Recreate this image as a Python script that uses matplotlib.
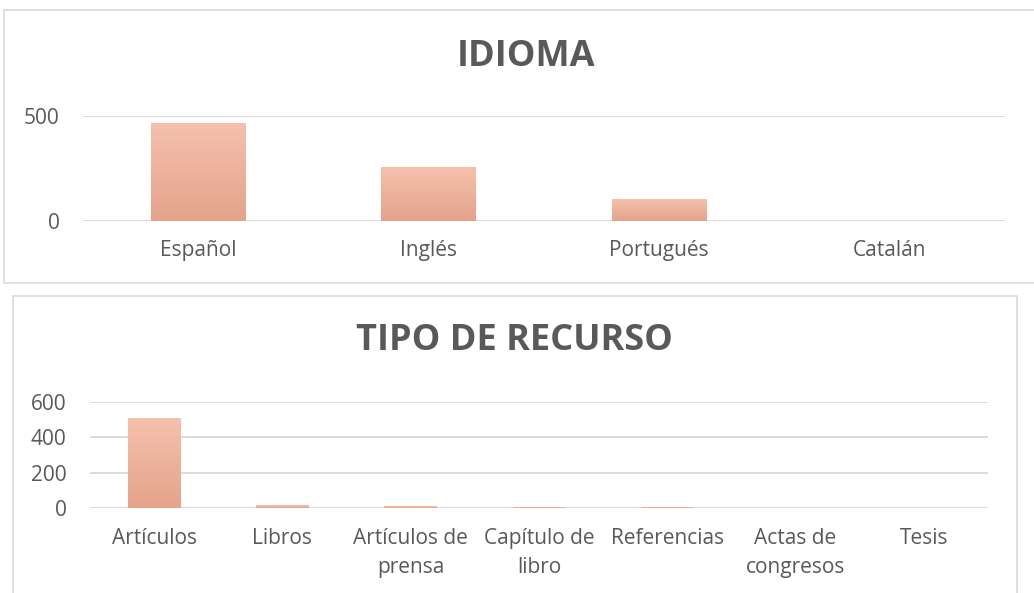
"""
Two Excel-style column charts: IDIOMA and TIPO DE RECURSO
"""

import numpy as np
import matplotlib
matplotlib.use('Agg')
import matplotlib.pyplot as plt
from matplotlib.patches import Rectangle
from matplotlib import patheffects as pe

# ---- data ----
idioma_labels = ['Español', 'Inglés', 'Portugués', 'Catalán']
idioma_values = [464, 256, 103, 0]

recurso_labels = ['Artículos', 'Libros', 'Artículos de\nprensa', 'Capítulo de\nlibro',
                  'Referencias', 'Actas de\ncongresos', 'Tesis']
recurso_values = [503, 13, 6, 1, 1, 0, 0]

COLORS = {
    'text': '#595959',
    'grid': '#D9D9D9',
    'frame': '#D9D9D9',
    'bar_top': '#F5C1AD',
    'bar_bottom': '#E4A38B',
}

plt.rcParams['font.family'] = ['Open Sans', 'DejaVu Sans']

W, H = 1034, 593
fig = plt.figure(figsize=(W / 100, H / 100), dpi=100)


def px_axes(left, top, right, bottom):
    # axes from pixel coords (origin top-left)
    return fig.add_axes([left / W, 1 - bottom / H, (right - left) / W, (bottom - top) / H])


def frame(left, top, right, bottom):
    fig.patches.append(Rectangle((left / W, 1 - bottom / H), (right - left) / W, (bottom - top) / H,
                                 transform=fig.transFigure, facecolor='none',
                                 edgecolor=COLORS['frame'], linewidth=1.2, zorder=-5))


def gradient_bars(ax, labels, values, ymax, yticks, linespacing=1.5):
    x = np.arange(len(labels))
    bars = ax.bar(x, values, width=0.41, color=COLORS['bar_bottom'], zorder=2,
                  path_effects=[pe.SimplePatchShadow(offset=(0, -1.5), alpha=0.15), pe.Normal()])
    grad = np.linspace(0, 1, 100).reshape(-1, 1)
    cmap = matplotlib.colors.LinearSegmentedColormap.from_list(
        'bar', [COLORS['bar_bottom'], COLORS['bar_top']])
    for b in bars:
        if b.get_height() <= 0:
            b.set_visible(False)
            continue
        ax.imshow(grad, extent=[b.get_x(), b.get_x() + b.get_width(), 0, b.get_height()],
                  origin='lower', aspect='auto', cmap=cmap, zorder=3)
    ax.set_xlim(-0.5, len(labels) - 0.5)
    ax.set_ylim(0, ymax)
    ax.set_yticks(yticks)
    ax.set_xticks(x)
    ax.set_xticklabels(labels, linespacing=linespacing)
    ax.yaxis.grid(True, color=COLORS['grid'], linewidth=1.3, zorder=0)
    ax.set_axisbelow(True)
    for s in ax.spines.values():
        s.set_visible(False)
    ax.tick_params(axis='both', length=0, labelsize=15, colors=COLORS['text'])
    ax.tick_params(axis='x', pad=14)
    ax.tick_params(axis='y', pad=17)
    ax.patch.set_alpha(0)
    for im in ax.images:
        im.set_clip_on(False)


# frames
frame(4, 10, 1040, 283)
frame(13, 296, 1017, 600)

# top chart
ax1 = px_axes(83, 115.7, 1005, 220.7)
gradient_bars(ax1, idioma_labels, idioma_values, 500, [0, 500])
fig.text(526 / W, 1 - 56.5 / H, 'IDIOMA', ha='center', va='center',
         fontsize=26, fontweight='bold', color=COLORS['text'])

# bottom chart
ax2 = px_axes(90, 401.7, 988, 508.3)
gradient_bars(ax2, recurso_labels, recurso_values, 600, [0, 200, 400, 600])
fig.text(514.5 / W, 1 - 340.5 / H, 'TIPO DE RECURSO', ha='center', va='center',
         fontsize=26, fontweight='bold', color=COLORS['text'])

fig.savefig('out.png', dpi=100, facecolor='white')
